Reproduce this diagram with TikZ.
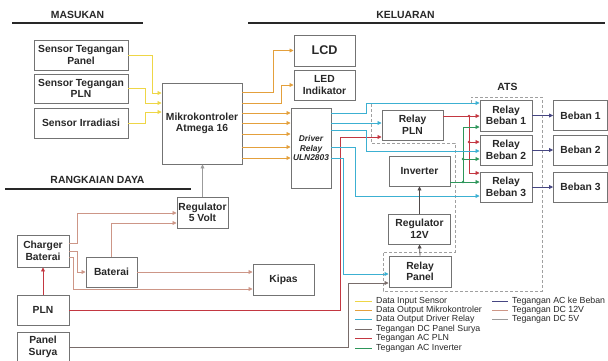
\documentclass[tikz,border=0pt]{standalone}
\usepackage{fontspec}
\setmainfont{Liberation Sans}
\usetikzlibrary{arrows.meta}
\definecolor{cyel}{RGB}{238,214,70}
\definecolor{corg}{RGB}{228,160,60}
\definecolor{ccya}{RGB}{60,176,210}
\definecolor{cpan}{RGB}{120,108,106}
\definecolor{cpnl}{RGB}{80,74,74}
\definecolor{cpln}{RGB}{195,55,65}
\definecolor{cinv}{RGB}{45,150,90}
\definecolor{cbeb}{RGB}{70,70,130}
\definecolor{cdcb}{RGB}{205,150,135}
\definecolor{cdcf}{RGB}{155,155,155}
\definecolor{cbox}{RGB}{115,115,115}
\definecolor{ctxt}{RGB}{40,40,40}
\definecolor{cdash}{RGB}{160,160,160}
\tikzset{
  blk/.style={draw=cbox, line width=0.9pt, fill=white, inner sep=0pt, align=center, text=ctxt,
    font=\bfseries\fontsize{10.3}{11.6}\selectfont},
  head/.style={inner sep=0pt, text=ctxt, font=\bfseries\fontsize{10.4}{12}\selectfont},
  headline/.style={line width=2pt, draw=ctxt},
  conn/.style={line width=0.8pt, -{Triangle[length=4pt,width=3.8pt]}},
  yel/.style={conn, draw=cyel},
  org/.style={conn, draw=corg},
  cya/.style={conn, draw=ccya},
  pln/.style={conn, draw=cpln},
  inv/.style={conn, draw=cinv},
  beb/.style={conn, draw=cbeb},
  dcb/.style={conn, draw=cdcb},
  dcf/.style={conn, draw=cdcf},
  pan/.style={conn, draw=cpan},
  pnl/.style={conn, draw=cpnl},
  legline/.style={line width=0.9pt},
  legtxt/.style={anchor=west, inner sep=0pt, text=ctxt, font=\fontsize{8.8}{10}\selectfont},
}
\begin{document}
\begin{tikzpicture}[x=1pt,y=-1pt]
\useasboundingbox[fill=white] (0,0) rectangle (608,360);

% headings
\node[head] (hm) at (77.5,15) {MASUKAN};
\draw[headline] (12,22.5) -- (143,22.5);
\node[head] (hk) at (405.5,15) {KELUARAN};
\draw[headline] (248,23) -- (605,23);
\node[head] (hr) at (97.5,180) {RANGKAIAN DAYA};
\draw[headline] (5,189) -- (191,189);
\node[head] (ats) at (507.5,86.5) {ATS};

% dashed outline (ATS area)
\draw[draw=cdash, line width=0.9pt, dash pattern=on 3pt off 2pt]
  (371,103) -- (471,103) -- (471,97) -- (542,97) -- (542,291) -- (383,291)
  -- (383,252) -- (455,252) -- (455,143) -- (371,143) -- cycle;

% blocks
\node[blk, minimum width=94pt, minimum height=30pt] (sTP) at (81,55) {Sensor Tegangan\\Panel};
\node[blk, minimum width=94pt, minimum height=29pt] (sPLN) at (81,88.5) {Sensor Tegangan\\PLN};
\node[blk, minimum width=94pt, minimum height=30pt] (sIrr) at (81,123) {Sensor Irradiasi};
\node[blk, minimum width=80pt, minimum height=81pt] (mikro) at (202,123.5) {Mikrokontroler\\Atmega 16};
\node[blk, minimum width=61pt, minimum height=31pt, font=\bfseries\fontsize{12.6}{14}\selectfont] (lcd) at (324.5,50.5) {LCD};
\node[blk, minimum width=61pt, minimum height=30pt] (led) at (324.5,85) {LED\\Indikator};
\node[blk, minimum width=40pt, minimum height=80pt, font=\bfseries\itshape\fontsize{8.4}{9.2}\selectfont] (drv) at (311,148) {Driver\\Relay\\ULN2803};
\node[blk, minimum width=61pt, minimum height=30pt] (rpln) at (412.5,125) {Relay\\PLN};
\node[blk, minimum width=52pt, minimum height=31pt] (rb1) at (506,115.5) {Relay\\Beban 1};
\node[blk, minimum width=52pt, minimum height=30pt] (rb2) at (506,150) {Relay\\Beban 2};
\node[blk, minimum width=52pt, minimum height=30pt] (rb3) at (506,187) {Relay\\Beban 3};
\node[blk, minimum width=54pt, minimum height=30pt] (b1) at (580.5,115.5) {Beban 1};
\node[blk, minimum width=54pt, minimum height=30pt] (b2) at (580.5,150) {Beban 2};
\node[blk, minimum width=54pt, minimum height=30pt] (b3) at (580.5,187) {Beban 3};
\node[blk, minimum width=61pt, minimum height=30pt] (inv) at (419.5,171) {Inverter};
\node[blk, minimum width=62pt, minimum height=30pt] (r12) at (419.5,229) {Regulator\\12V};
\node[blk, minimum width=62pt, minimum height=31pt] (rpanel) at (420,271.5) {Relay\\Panel};
\node[blk, minimum width=51pt, minimum height=31pt] (reg5) at (202.5,212.5) {Regulator\\5 Volt};
\node[blk, minimum width=52pt, minimum height=32pt] (charger) at (43,251) {Charger\\Baterai};
\node[blk, minimum width=51pt, minimum height=30pt] (baterai) at (111.5,272) {Baterai};
\node[blk, minimum width=61pt, minimum height=31pt] (kipas) at (283.5,279.5) {Kipas};
\node[blk, minimum width=52pt, minimum height=30pt] (pln) at (43,310) {PLN};
\node[blk, minimum width=52pt, minimum height=30pt] (psurya) at (43,347) {Panel\\Surya};

% data input sensor
\draw[yel] (sTP.east) -| (152,93) -- (mikro.west |- 0,93);
\draw[yel] (sPLN.east) -| (145,103) -- (mikro.west |- 0,103);
\draw[yel] (sIrr.east) -| (145,112) -- (mikro.west |- 0,112);

% data output mikrokontroler
\draw[org] (mikro.east |- 0,92) -| (273,50.5) -- (lcd.west);
\draw[org] (mikro.east |- 0,103) -| (281,85) -- (led.west);
\foreach \yy in {113,123,134,147,158}
  \draw[org] (mikro.east |- 0,\yy) -- (drv.west |- 0,\yy);

% AC PLN
\draw[pln] (pln.east) -| (340,137) -- (rpln.west |- 0,137);
\draw[pln] (pln.north) -- (charger.south);
\coordinate (jr1) at (469,116);
\coordinate (jr2) at (469,142);
\draw[pln] (rpln.east |- jr1) -- (rb1.west |- jr1);
\draw[pln] (jr1) |- (rb3.west |- 0,173);
\draw[pln] (jr2) -- (rb2.west |- jr2);
\fill[cpln] (jr1) circle (1.4pt) (jr2) circle (1.4pt);

% AC inverter
\coordinate (jg2) at (463,159);
\coordinate (jg3) at (463,182);
\draw[inv] (inv.east |- jg3) -- (rb3.west |- jg3);
\draw[inv] (jg3) |- (rb1.west |- 0,127);
\draw[inv] (jg2) -- (rb2.west |- jg2);
\fill[cinv] (jg2) circle (1.4pt) (jg3) circle (1.4pt);

% data output driver relay
\draw[cya] (drv.east |- 0,113) -| (366,103) -- (rb1.west |- 0,103);
\draw[cya] (drv.east |- 0,123) -- (rpln.west |- 0,123);
\draw[cya] (drv.east |- 0,130) -| (366,151) -- (rb2.west |- 0,151);
\draw[cya] (drv.east |- 0,147) -| (355,196) -- (rb3.west |- 0,196);
\draw[cya] (drv.east |- 0,158) -| (343,274) -- (rpanel.west |- 0,274);

% AC to loads
\draw[beb] (rb1.east) -- (b1.west |- rb1.east);
\draw[beb] (rb2.east) -- (b2.west |- rb2.east);
\draw[beb] (rb3.east) -- (b3.west |- rb3.east);

% DC 5V
\draw[dcf] (reg5.north) -- (reg5.north |- mikro.south);

% DC battery lines
\draw[dcb] (charger.east |- 0,243) -| (77,213) -- (reg5.west |- 0,213);
\draw[dcb] (baterai.north) |- (reg5.west |- 0,223);
\draw[dcb] (charger.east |- 0,251) -| (77,272) -- (baterai.west |- 0,272);
\draw[dcb] (charger.east |- 0,257) -| (73,289) -- (kipas.west |- 0,289);
\draw[dcb] (baterai.east) -- (kipas.west |- baterai.east);

% DC panel surya
\draw[pan] (psurya.east) -| (348,283) -- (rpanel.west |- 0,283);
\draw[pnl] (rpanel.north) -- (r12.south);
\draw[pnl] (r12.north) -- (inv.south);

% legend
\draw[legline, cyel] (355,301) -- (372,301);
\node[legtxt] (l1) at (376,301) {Data Input Sensor};
\draw[legline, corg] (355,310) -- (372,310);
\node[legtxt] (l2) at (376,310) {Data Output Mikrokontroler};
\draw[legline, ccya] (355,319.5) -- (372,319.5);
\node[legtxt] (l3) at (376,319.5) {Data Output Driver Relay};
\draw[legline, cpan] (355,329) -- (372,329);
\node[legtxt] (l4) at (376,329) {Tegangan DC Panel Surya};
\draw[legline, cpln] (355,338.5) -- (372,338.5);
\node[legtxt] (l5) at (376,338.5) {Tegangan AC PLN};
\draw[legline, cinv] (355,348) -- (372,348);
\node[legtxt] (l6) at (376,348) {Tegangan AC Inverter};
\draw[legline, cbeb] (492,301) -- (508,301);
\node[legtxt] (l7) at (512,301) {Tegangan AC ke Beban};
\draw[legline, cdcb] (492,310) -- (508,310);
\node[legtxt] (l8) at (512,310) {Tegangan DC 12V};
\draw[legline, cdcf] (492,319.5) -- (508,319.5);
\node[legtxt] (l9) at (512,319.5) {Tegangan DC 5V};
\end{tikzpicture}
\end{document}
